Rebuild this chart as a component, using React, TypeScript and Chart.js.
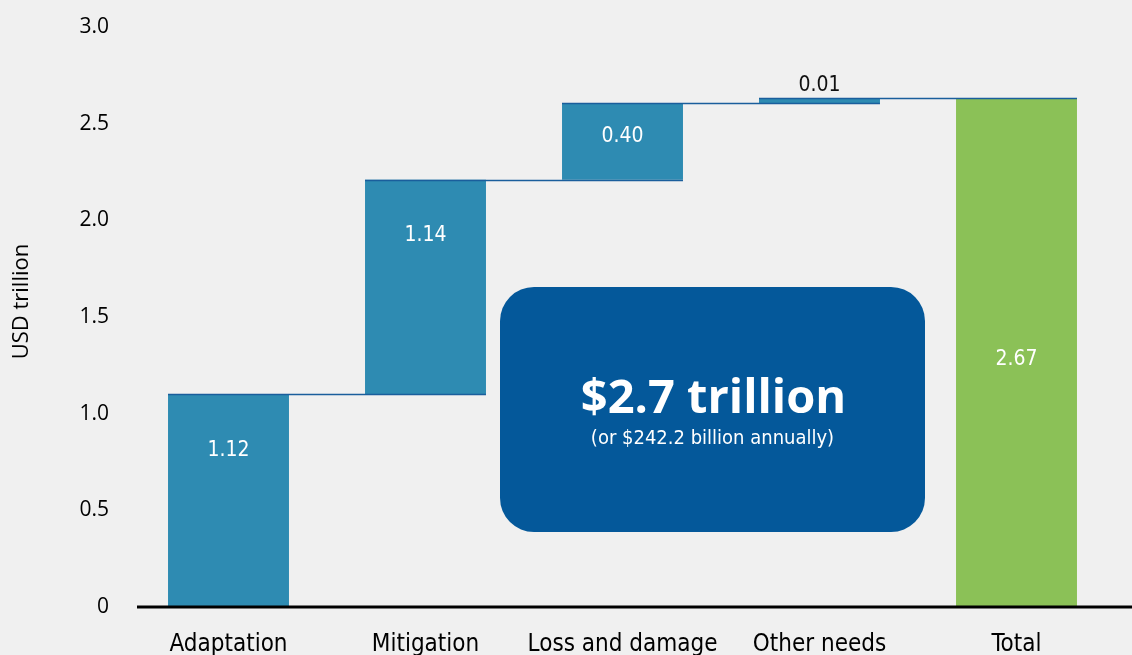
import React, { useEffect, useRef } from "react";
import { Chart, registerables } from "chart.js";

Chart.register(...registerables);

const categories = ["Adaptation", "Mitigation", "Loss and damage", "Other needs", "Total"];
const barStarts = [0, 1.1, 2.21, 2.607, 0];
const barEnds = [1.1, 2.21, 2.607, 2.633, 2.633];
const valueLabels = ["1.12", "1.14", "0.40", "0.01", "2.67"];
const barColors = ["#2E8BB2", "#2E8BB2", "#2E8BB2", "#2E8BB2", "#8BC157"];
const yTicks = [0, 0.5, 1, 1.5, 2, 2.5, 3];
const headline = "$2.7 trillion";
const subline = "(or $242.2 billion annually)";
const yTitle = "USD trillion";

const BG = "#F0F0F0";
const NARROW = "'Liberation Sans Narrow', 'DejaVu Sans Condensed', 'Roboto', sans-serif";
const REG = "'Open Sans', 'Noto Sans', sans-serif";

const overlay = {
  id: "overlay",
  beforeDraw(chart: any) {
    const { ctx, width, height } = chart;
    ctx.save();
    ctx.fillStyle = BG;
    ctx.fillRect(0, 0, width, height);
    ctx.restore();
  },
  afterDatasetsDraw(chart: any) {
    const { ctx, chartArea } = chart;
    const meta = chart.getDatasetMeta(0);
    const y = chart.scales.y;
    ctx.save();
    // y axis title
    ctx.save();
    ctx.translate(22, y.getPixelForValue(1.58));
    ctx.rotate(-Math.PI / 2);
    ctx.fillStyle = "#000";
    ctx.font = `22px ${REG}`;
    ctx.textAlign = "center";
    ctx.textBaseline = "middle";
    ctx.fillText(yTitle, 0, 0);
    ctx.restore();
    // connectors
    ctx.strokeStyle = "#1A5E9C";
    ctx.lineWidth = 1.5;
    for (let i = 0; i < meta.data.length - 1; i++) {
      const a = meta.data[i];
      const b = meta.data[i + 1];
      const yy = Math.round(y.getPixelForValue(barEnds[i])) + 0.5;
      ctx.beginPath();
      ctx.moveTo(a.x - a.width / 2, yy);
      ctx.lineTo(b.x + b.width / 2, yy);
      ctx.stroke();
    }
    // zero axis line
    const y0 = y.getPixelForValue(0);
    ctx.strokeStyle = "#000";
    ctx.lineWidth = 3;
    ctx.beginPath();
    ctx.moveTo(chartArea.left + 7, y0);
    ctx.lineTo(chart.width, y0);
    ctx.stroke();
    // value labels
    ctx.textAlign = "center";
    ctx.textBaseline = "middle";
    ctx.font = `21px ${NARROW}`;
    meta.data.forEach((bar: any, i: number) => {
      const top = Math.min(bar.y, bar.base);
      const bottom = Math.max(bar.y, bar.base);
      const h = bottom - top;
      const center = (top + bottom) / 2;
      let ly: number;
      if (h < 20) {
        ctx.fillStyle = "#111";
        ly = top - 12;
      } else {
        ctx.fillStyle = "#fff";
        ly = i === meta.data.length - 1 ? center + 7 : Math.min(top + 56, center - 5);
      }
      ctx.fillText(valueLabels[i], bar.x, ly);
    });
    // callout box
    const bx = chartArea.left + 370;
    const bw = 425;
    const by = chartArea.top + 260;
    const bh = 245;
    ctx.fillStyle = "#04589A";
    ctx.beginPath();
    (ctx as any).roundRect(bx, by, bw, bh, 34);
    ctx.fill();
    ctx.fillStyle = "#fff";
    ctx.font = `bold 47px ${REG}`;
    ctx.fillText(headline, bx + bw / 2 + 1, by + 113);
    ctx.font = `20px ${NARROW}`;
    ctx.fillText(subline, bx + bw / 2, by + 152);
    ctx.restore();
  },
};

export default function App() {
  const ref = useRef<HTMLCanvasElement>(null);
  useEffect(() => {
    document.body.style.margin = "0";
    document.body.style.background = BG;
    const chart = new Chart(ref.current!, {
      type: "bar",
      data: {
        labels: categories,
        datasets: [
          {
            data: barStarts.map((s, i) => [s, barEnds[i]]) as any,
            backgroundColor: barColors,
            borderWidth: 0,
            barPercentage: 0.614,
            categoryPercentage: 1,
          },
        ],
      },
      options: {
        animation: false,
        responsive: false,
        layout: { padding: { left: 0, right: 17, top: 27, bottom: 0 } },
        plugins: { legend: { display: false }, tooltip: { enabled: false } },
        scales: {
          x: {
            grid: { display: false, drawTicks: false },
            border: { display: false },
            ticks: { color: "#000", font: { family: NARROW, size: 24 }, padding: 23, maxRotation: 0 },
            afterFit: (s: any) => { s.height = 48; s.paddingLeft = 0; s.paddingRight = 0; },
          },
          y: {
            min: 0,
            max: 3,
            afterBuildTicks: (s: any) => { s.ticks = yTicks.map((v) => ({ value: v })); },
            grid: { display: false, drawTicks: false },
            border: { display: false },
            ticks: {
              color: "#000",
              font: { family: REG, size: 21 },
              padding: 21,
              callback: (v: any) => (v === 0 ? "0" : Number(v).toFixed(1)),
            },
            title: { display: false },
            afterFit: (s: any) => { s.width = 130; s.paddingTop = 0; s.paddingBottom = 0; },
          },
        },
      },
      plugins: [overlay],
    });
    return () => chart.destroy();
  }, []);
  return (
    <div style={{ width: 1132, height: 655, background: BG }}>
      <canvas ref={ref} width={1132} height={655} style={{ display: "block" }} />
    </div>
  );
}
